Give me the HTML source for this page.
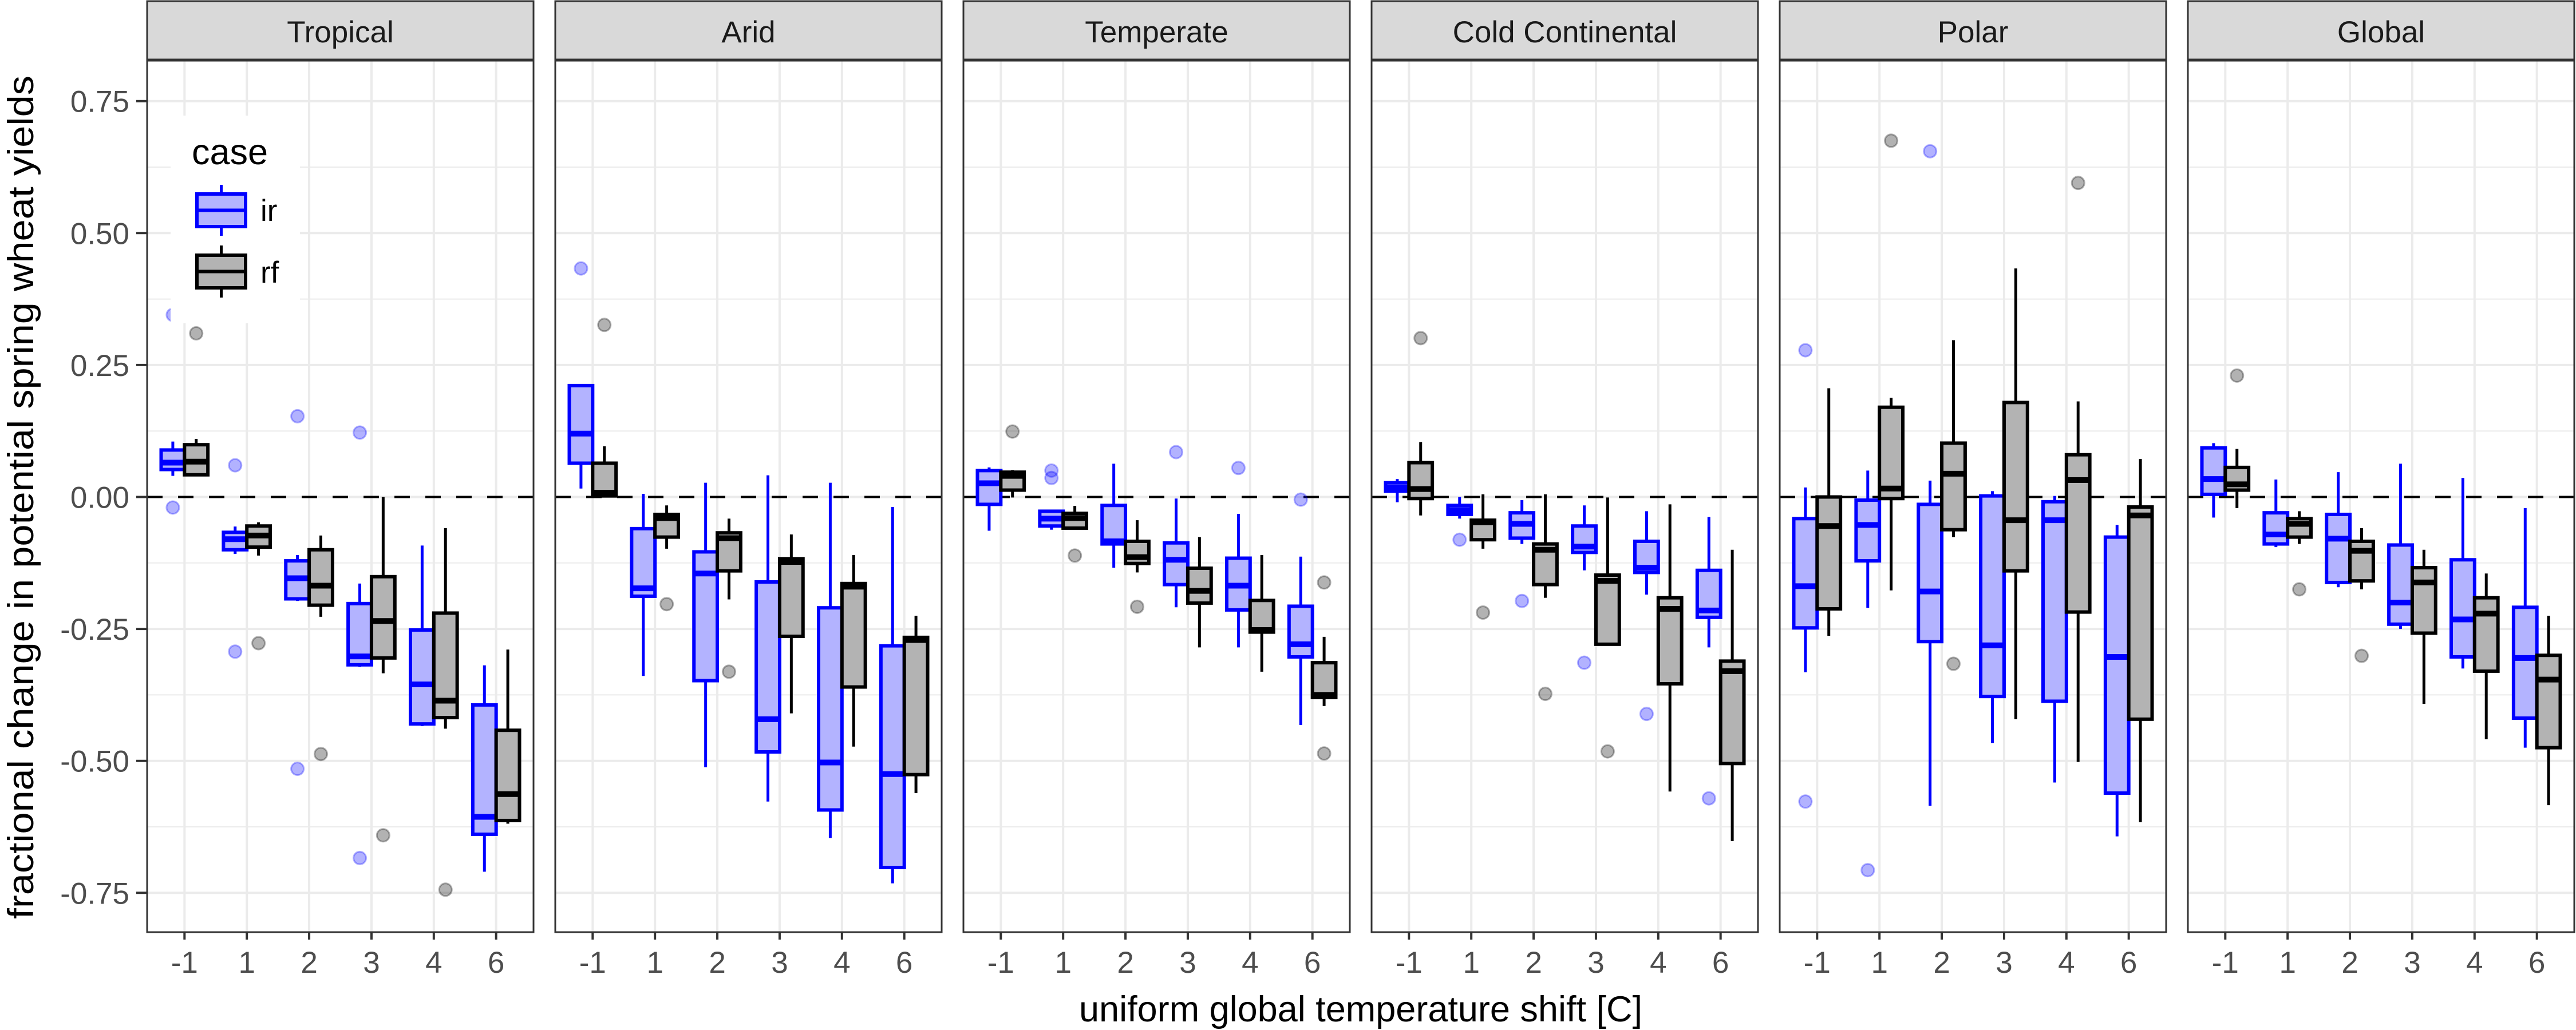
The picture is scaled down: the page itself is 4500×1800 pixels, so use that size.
<!DOCTYPE html>
<html><head><meta charset="utf-8"><style>
html,body{margin:0;padding:0;background:#fff;}
svg{display:block;}
text{font-family:"Liberation Sans",Arial,sans-serif;}
</style></head><body>
<svg id="chart" xmlns="http://www.w3.org/2000/svg" width="4500" height="1800" viewBox="0 0 4500 1800">
<rect x="0" y="0" width="4500" height="1800" fill="#fff"/>
<g id="panels"></g>
<text x="2377" y="1785" font-size="63" text-anchor="middle" fill="#000">uniform global temperature shift [C]</text>
<text transform="translate(58,869) rotate(-90)" x="0" y="0" font-size="63" text-anchor="middle" fill="#000" textLength="1474" lengthAdjust="spacingAndGlyphs">fractional change in potential spring wheat yields</text>
<g id="legend">
  <rect x="298" y="202" width="226" height="363" fill="#fff"/>
  <text x="335" y="287" font-size="63" fill="#000">case</text>
  <g>
    <line x1="386.5" y1="323" x2="386.5" y2="412" stroke="#0000ff" stroke-width="5"/>
    <rect x="344" y="339" width="85" height="57" fill="#b3b3ff" stroke="#0000ff" stroke-width="6"/>
    <line x1="344" y1="367.5" x2="429" y2="367.5" stroke="#0000ff" stroke-width="6"/>
    <text x="455" y="386" font-size="53" fill="#000">ir</text>
  </g>
  <g>
    <line x1="386.5" y1="429" x2="386.5" y2="520" stroke="#000" stroke-width="5"/>
    <rect x="344" y="446" width="85" height="57" fill="#b3b3b3" stroke="#000" stroke-width="6"/>
    <line x1="344" y1="474.5" x2="429" y2="474.5" stroke="#000" stroke-width="6"/>
    <text x="455" y="494" font-size="53" fill="#000">rf</text>
  </g>
</g>
</svg>
<script>
const regions = ["Tropical","Arid","Temperate","Cold Continental","Polar","Global"];
const temps = ["-1","1","2","3","4","6"];
const yTicks = [0.75,0.5,0.25,0,-0.25,-0.5,-0.75];
const yTickLabels = ["0.75","0.50","0.25","0.00","-0.25","-0.50","-0.75"];
const yMinor = [0.625,0.375,0.125,-0.125,-0.375,-0.625];

// ir (irrigated) stats per region, per temperature: [lowWhisker, q1, median, q3, highWhisker]
const irLow = [
 [0.04,-0.108,-0.197,-0.322,-0.434,-0.710],
 [0.016,-0.339,-0.512,-0.577,-0.646,-0.732],
 [-0.064,-0.062,-0.134,-0.209,-0.285,-0.432],
 [-0.010,-0.041,-0.089,-0.139,-0.185,-0.285],
 [-0.332,-0.210,-0.585,-0.466,-0.541,-0.643],
 [-0.039,-0.095,-0.171,-0.250,-0.325,-0.475]];
const irQ1 = [
 [0.052,-0.100,-0.193,-0.318,-0.430,-0.639],
 [0.064,-0.188,-0.348,-0.483,-0.593,-0.702],
 [-0.014,-0.055,-0.089,-0.166,-0.214,-0.303],
 [0.011,-0.033,-0.078,-0.105,-0.143,-0.228],
 [-0.248,-0.121,-0.274,-0.378,-0.387,-0.561],
 [0.005,-0.089,-0.162,-0.241,-0.303,-0.419]];
const irMed = [
 [0.065,-0.080,-0.154,-0.302,-0.355,-0.606],
 [0.120,-0.173,-0.145,-0.421,-0.503,-0.525],
 [0.026,-0.041,-0.084,-0.119,-0.168,-0.279],
 [0.018,-0.025,-0.051,-0.094,-0.134,-0.215],
 [-0.169,-0.053,-0.179,-0.281,-0.044,-0.303],
 [0.034,-0.071,-0.079,-0.200,-0.232,-0.305]];
const irQ3 = [
 [0.089,-0.067,-0.121,-0.202,-0.252,-0.394],
 [0.211,-0.060,-0.104,-0.161,-0.210,-0.282],
 [0.050,-0.027,-0.016,-0.087,-0.116,-0.207],
 [0.027,-0.016,-0.030,-0.055,-0.084,-0.139],
 [-0.041,-0.006,-0.014,0.002,-0.009,-0.076],
 [0.093,-0.030,-0.033,-0.091,-0.119,-0.209]];
const irHigh = [
 [0.105,-0.056,-0.110,-0.164,-0.092,-0.319],
 [0.213,0.006,0.027,0.041,0.027,-0.019],
 [0.056,-0.025,0.063,-0.003,-0.032,-0.113],
 [0.034,0.000,-0.006,-0.016,-0.027,-0.038],
 [0.018,0.050,0.031,0.011,0.002,-0.053],
 [0.102,0.033,0.047,0.063,0.036,-0.021]];
const irOutliers = [
 [[0.345,-0.02],[0.06,-0.293],[0.153,-0.515],[0.122,-0.684],[],[]],
 [[0.433],[],[],[],[],[]],
 [[],[0.050,0.036],[],[0.085],[0.055],[-0.005]],
 [[],[-0.081],[-0.197],[-0.314],[-0.411],[-0.571]],
 [[0.278,-0.577],[-0.707],[0.655],[],[],[]],
 [[],[],[],[],[],[]]];

// rf (rainfed) stats
const rfLow = [
 [0.04,-0.111,-0.227,-0.334,-0.439,-0.619],
 [0.002,-0.098,-0.194,-0.410,-0.473,-0.561],
 [-0.001,-0.059,-0.143,-0.285,-0.331,-0.396],
 [-0.035,-0.098,-0.191,-0.279,-0.558,-0.652],
 [-0.263,-0.177,-0.076,-0.421,-0.502,-0.616],
 [-0.021,-0.089,-0.175,-0.392,-0.459,-0.584]];
const rfQ1 = [
 [0.042,-0.095,-0.205,-0.305,-0.418,-0.613],
 [0.002,-0.076,-0.140,-0.264,-0.360,-0.526],
 [0.013,-0.059,-0.126,-0.201,-0.256,-0.380],
 [-0.003,-0.081,-0.166,-0.279,-0.354,-0.505],
 [-0.212,-0.003,-0.062,-0.140,-0.218,-0.421],
 [0.013,-0.076,-0.159,-0.258,-0.330,-0.475]];
const rfMed = [
 [0.067,-0.073,-0.168,-0.235,-0.386,-0.563],
 [0.008,-0.040,-0.078,-0.123,-0.170,-0.271],
 [0.040,-0.040,-0.114,-0.178,-0.252,-0.375],
 [0.015,-0.048,-0.100,-0.159,-0.212,-0.330],
 [-0.055,0.016,0.044,-0.044,0.032,-0.035],
 [0.024,-0.051,-0.102,-0.162,-0.221,-0.346]];
const rfQ3 = [
 [0.099,-0.055,-0.100,-0.151,-0.220,-0.442],
 [0.064,-0.033,-0.068,-0.117,-0.164,-0.266],
 [0.047,-0.031,-0.084,-0.135,-0.196,-0.314],
 [0.065,-0.044,-0.089,-0.148,-0.191,-0.311],
 [0.000,0.170,0.102,0.179,0.080,-0.019],
 [0.056,-0.041,-0.084,-0.134,-0.191,-0.300]];
const rfHigh = [
 [0.110,-0.048,-0.073,0.000,-0.059,-0.289],
 [0.096,-0.016,-0.041,-0.071,-0.110,-0.225],
 [0.051,-0.017,-0.044,-0.076,-0.110,-0.265],
 [0.104,0.005,0.005,-0.001,-0.014,-0.100],
 [0.206,0.188,0.297,0.433,0.181,0.072],
 [0.091,-0.027,-0.059,-0.100,-0.145,-0.225]];
const rfOutliers = [
 [[0.310],[-0.277],[-0.487],[-0.641],[-0.744],[]],
 [[0.326],[-0.203],[-0.331],[],[],[]],
 [[0.124],[-0.111],[-0.208],[],[],[-0.162,-0.486]],
 [[0.301],[-0.219],[-0.373],[-0.482],[],[]],
 [[],[0.675],[-0.316],[],[0.595],[]],
 [[0.230],[-0.175],[-0.301],[],[],[]]];

const NS = "http://www.w3.org/2000/svg";
const PANEL_X0 = 257, PANEL_W = 675, PANEL_STEP = 713;
const PANEL_TOP = 106, PANEL_BOT = 1629, STRIP_TOP = 1;
const UNIT = PANEL_W / 6.2;
const BOX_W = 0.375 * UNIT;
function yScale(v){ return 868.5 - v * 922.4; }
function xScale(p, i){ return PANEL_X0 + p * PANEL_STEP + (i + 0.6) * UNIT; }
function mk(tag, attrs, parent){
  const e = document.createElementNS(NS, tag);
  for (const k in attrs) e.setAttribute(k, attrs[k]);
  parent.appendChild(e);
  return e;
}
const root = document.getElementById("panels");

// y axis (left of first panel)
const yAxis = mk("g", {}, root);


yTicks.forEach((v, k) => {
  const y = yScale(v);
  const t = mk("line", {x1: 238, x2: 257, y1: y, y2: y, stroke: "#333", "stroke-width": 4}, yAxis);
  
  
  const lb = mk("text", {x: 226, y: y + 19, "font-size": 53, "text-anchor": "end", fill: "#4d4d4d"}, yAxis);
  lb.textContent = yTickLabels[k];
  
  
});

regions.forEach((reg, p) => {
  const L = PANEL_X0 + p * PANEL_STEP;
  const g = mk("g", {}, root);
  
  
  mk("rect", {x: L, y: PANEL_TOP, width: PANEL_W, height: PANEL_BOT - PANEL_TOP, fill: "#fff"}, g);
  yMinor.forEach(v => {
    const y = yScale(v);
    const gl = mk("line", {x1: L, x2: L + PANEL_W, y1: y, y2: y, stroke: "#ebebeb", "stroke-width": 2}, g);
    
    
  });
  yTicks.forEach(v => {
    const y = yScale(v);
    const gl = mk("line", {x1: L, x2: L + PANEL_W, y1: y, y2: y, stroke: "#ebebeb", "stroke-width": 4}, g);
    
    
  });
  temps.forEach((tl, i) => {
    const x = xScale(p, i);
    const gl = mk("line", {x1: x, x2: x, y1: PANEL_TOP, y2: PANEL_BOT, stroke: "#ebebeb", "stroke-width": 4}, g);
    
    
    const tk = mk("line", {x1: x, x2: x, y1: PANEL_BOT, y2: PANEL_BOT + 13, stroke: "#333", "stroke-width": 4}, g);
    
    
    const lb = mk("text", {x: x, y: 1700, "font-size": 53, "text-anchor": "middle", fill: "#4d4d4d"}, g);
    lb.textContent = tl;
    
    
  });
  const z = mk("line", {x1: L, x2: L + PANEL_W, y1: yScale(0), y2: yScale(0), stroke: "#000", "stroke-width": 4, "stroke-dasharray": "27 27"}, g);
  
  

  const cases = [
    {n: "ir", lo: irLow, q1: irQ1, md: irMed, q3: irQ3, hi: irHigh, out: irOutliers, off: -0.1875, stroke: "#0000ff", fill: "#b3b3ff", pt: "rgba(0,0,255,0.3)"},
    {n: "rf", lo: rfLow, q1: rfQ1, md: rfMed, q3: rfQ3, hi: rfHigh, out: rfOutliers, off: 0.1875, stroke: "#000", fill: "#b3b3b3", pt: "rgba(0,0,0,0.3)"}
  ];
  cases.forEach(c => {
    temps.forEach((tl, i) => {
      const cx = xScale(p, i) + c.off * UNIT;
      const bg = mk("g", {}, g);
      
      
      const yq1 = yScale(c.q1[p][i]), yq3 = yScale(c.q3[p][i]);
      mk("line", {x1: cx, x2: cx, y1: yScale(c.hi[p][i]), y2: yq3, stroke: c.stroke, "stroke-width": 5}, bg);
      mk("line", {x1: cx, x2: cx, y1: yq1, y2: yScale(c.lo[p][i]), stroke: c.stroke, "stroke-width": 5}, bg);
      mk("rect", {x: cx - BOX_W / 2, y: yq3, width: BOX_W, height: Math.max(yq1 - yq3, 0.5), fill: c.fill, stroke: c.stroke, "stroke-width": 6}, bg);
      const ym = yScale(c.md[p][i]);
      mk("line", {x1: cx - BOX_W / 2, x2: cx + BOX_W / 2, y1: ym, y2: ym, stroke: c.stroke, "stroke-width": 10}, bg);
      c.out[p][i].forEach(v => {
        const o = mk("circle", {cx: cx, cy: yScale(v), r: 11, fill: c.pt, stroke: c.pt, "stroke-width": 3}, g);
        
        
      });
    });
  });

  const br = mk("rect", {x: L, y: PANEL_TOP, width: PANEL_W, height: PANEL_BOT - PANEL_TOP, fill: "none", stroke: "#333", "stroke-width": 3}, g);
  
  
  const st = mk("rect", {x: L, y: STRIP_TOP + 1, width: PANEL_W, height: PANEL_TOP - STRIP_TOP - 3, fill: "#d9d9d9", stroke: "#333", "stroke-width": 3}, g);
  
  
  const stt = mk("text", {x: L + PANEL_W / 2, y: 74, "font-size": 53, "text-anchor": "middle", fill: "#1a1a1a"}, g);
  stt.textContent = reg;
  
  
});
// keep legend on top
document.getElementById("chart").appendChild(document.getElementById("legend"));
</script>
</body></html>
